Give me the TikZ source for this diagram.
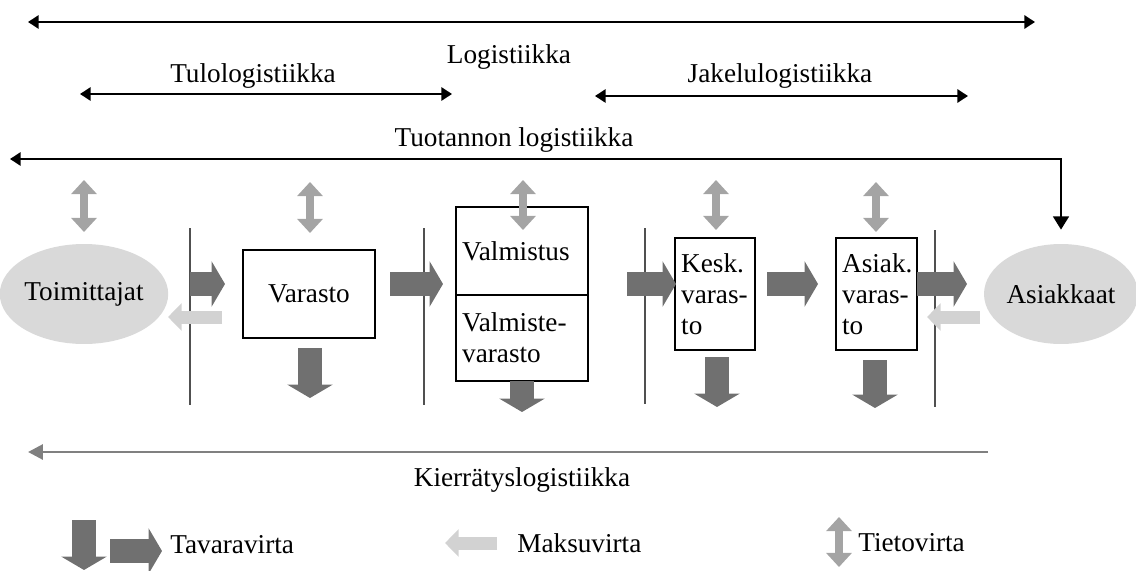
\documentclass[tikz,border=0pt]{standalone}
\usepackage{fontspec}
\setmainfont{Liberation Serif}
\usetikzlibrary{arrows.meta,shapes.geometric}

\definecolor{tavaragray}{HTML}{707070}
\definecolor{maksugray}{HTML}{D2D2D2}
\definecolor{tietogray}{HTML}{A4A4A4}
\definecolor{rajagray}{HTML}{505050}
\definecolor{soikiogray}{HTML}{D9D9D9}

\tikzset{
  teksti/.style={font=\fontsize{15.5}{17.5}\selectfont, inner sep=0pt},
  laatikko/.style={draw, line width=0.9pt, teksti},
  vasen/.style={align=left, inner xsep=3.5pt, text width=#1},
  soikio/.style={ellipse, fill=soikiogray, teksti, minimum width=2.92cm, minimum height=2cm},
  logi/.style={line width=1.1pt, {Triangle[length=6pt,width=7.5pt]}-{Triangle[length=6pt,width=7.5pt]}},
  raja/.style={draw=rajagray, line width=1.2pt},
  tavara/.style={draw=tavaragray, line width=13.6pt, -{Triangle[length=7.6pt,width=25.5pt]}},
  maksu/.style={draw=maksugray, line width=7.4pt, -{Triangle[length=7.8pt,width=15.3pt]}},
  tieto/.style={draw=tietogray, line width=4.5pt, {Triangle[length=8pt,width=14.2pt]}-{Triangle[length=8pt,width=14.2pt]}}
}

\begin{document}
\begin{tikzpicture}[x=0.02cm, y=-0.02cm]
  \useasboundingbox (0,0) rectangle (1136,571);

  % logistics spans
  \coordinate (logV) at (28,22);   \coordinate (logO) at (1035,22);
  \coordinate (tuloV) at (80,94);  \coordinate (tuloO) at (452,94);
  \coordinate (jakV) at (595,96);  \coordinate (jakO) at (968,96);
  \coordinate (tuoV) at (10,159);  \coordinate (tuoO) at (1063,159);
  \coordinate (kierV) at (28,452); \coordinate (kierO) at (988,452);

  \draw[logi] (logV) -- (logO);
  \draw[logi] (tuloV) -- (tuloO);
  \draw[logi] (jakV) -- (jakO);
  \node[teksti] (logistiikka) at (509,57) {Logistiikka};
  \node[teksti] (tulo) at (253,76) {Tulologistiikka};
  \node[teksti] (jakelu) at (780,76) {Jakelulogistiikka};
  \node[teksti] (tuotanto) at (514,140) {Tuotannon logistiikka};

  % parties and storages
  \node[soikio] (toim) at (84,294) {Toimittajat};
  \node[soikio] (asiakkaat) at (1061,294) {Asiakkaat};
  \node[laatikko, minimum width=2.64cm, minimum height=1.76cm] (varasto) at (309,294) {Varasto};
  \node[laatikko, vasen=68.1pt, minimum height=1.76cm] (valmistus) at (522,251) {Valmistus};
  \node[laatikko, vasen=68.1pt, minimum height=1.72cm] (valmiste) at (522,338) {Valmiste-\\varasto};
  \node[laatikko, vasen=38.5pt, minimum height=2.24cm] (kesk) at (715,294) {Kesk.\\varas-\\to};
  \node[laatikko, vasen=39.1pt, minimum height=2.24cm] (asiak) at (876.5,294) {Asiak.\\varas-\\to};

  \draw[line width=1.1pt, {Triangle[length=6pt,width=7.5pt]}-{Triangle[length=7.5pt,width=9pt]}, shorten >=8pt]
    (tuoV) -| (asiakkaat.north);

  % borders
  \draw[raja] (190,228) -- (190,405);
  \draw[raja] (424,228) -- (424,405);
  \draw[raja] (645,228) -- (645,404);
  \draw[raja] (935,230) -- (935,407);

  % goods flow
  \draw[tavara] (190,284) -- (225,284);
  \draw[tavara] (390,284) -- (443,284);
  \draw[tavara] (627,284) -- (676,284);
  \draw[tavara] (767,284) -- (818,284);
  \draw[tavara] (917,284) -- (967,284);
  \draw[tavara] (310,348) -- (310,398);
  \draw[tavara] (522,381) -- (522,412);
  \draw[tavara] (717,357) -- (717,407);
  \draw[tavara] (875,360) -- (875,408);

  % payment flow
  \draw[maksu] (222,317) -- (168,317);
  \draw[maksu] (980,317) -- (927,317);

  % information flow
  \draw[tieto] (84,180) -- (84,232);
  \draw[tieto] (310,182) -- (310,233);
  \draw[tieto] (523,180) -- (523,230);
  \draw[tieto] (716,180) -- (716,230);
  \draw[tieto] (876,182) -- (876,232);

  % recycling
  \draw[draw=gray, line width=1.7pt, -{Triangle[length=8.5pt,width=8.5pt]}] (kierO) -- (kierV);
  \node[teksti] (kierratys) at (522,480) {Kierrätyslogistiikka};

  % legend
  \draw[tavara] (84,520) -- (84,570);
  \draw[tavara] (110,551) -- (162,551);
  \node[teksti, anchor=west] (tavaravirta) at (170,545) {Tavaravirta};
  \draw[maksu] (497,543) -- (445,543);
  \node[teksti, anchor=west] (maksuvirta) at (517,543) {Maksuvirta};
  \draw[tieto] (839,517) -- (839,567);
  \node[teksti, anchor=west] (tietovirta) at (858,543) {Tietovirta};
\end{tikzpicture}
\end{document}
